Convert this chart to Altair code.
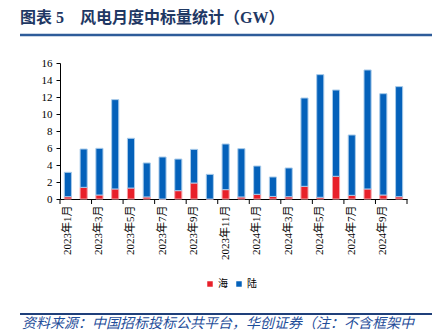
import altair as alt
import pandas as pd

months = ["2023年1月", "2023年2月", "2023年3月", "2023年4月", "2023年5月", "2023年6月",
          "2023年7月", "2023年8月", "2023年9月", "2023年10月", "2023年11月", "2023年12月",
          "2024年1月", "2024年2月", "2024年3月", "2024年4月", "2024年5月", "2024年6月",
          "2024年7月", "2024年8月", "2024年9月", "2024年10月"]
offshore = [0.27, 1.37, 0.47, 1.18, 1.29, 0.24, 0.0, 0.98, 1.88, 0.0, 1.10,
            0.24, 0.55, 0.30, 0.27, 1.49, 0.20, 2.67, 0.43, 1.18, 0.47, 0.27]
onshore = [2.87, 4.51, 5.49, 10.51, 5.85, 4.00, 4.94, 3.72, 3.96, 2.90, 5.37,
           5.68, 3.33, 2.29, 3.38, 10.39, 14.43, 10.15, 7.10, 14.00, 11.92, 12.95]
series = ["海", "陆"]
yticks = [0, 2, 4, 6, 8, 10, 12, 14, 16]
label_months = months[::2]

rows = []
for m, a, b in zip(months, offshore, onshore):
    rows.append({"month": m, "type": series[0], "value": a, "ord": 0})
    rows.append({"month": m, "type": series[1], "value": b, "ord": 1})
df = pd.DataFrame(rows)

W, H = 347, 136
SERIF = "Liberation Serif, Noto Sans CJK SC"
CJK = "Noto Sans CJK SC"

xscale = alt.Scale(domain=months, paddingInner=0, paddingOuter=0)
xaxis = alt.Axis(title=None, values=label_months, labelAngle=270, ticks=False,
                 domainColor="black", labelColor="black", labelFont=SERIF,
                 labelFontSize=11, labelPadding=6)

bars = alt.Chart(df).mark_bar(width={"band": 0.45}, strokeWidth=1).encode(
    x=alt.X("month:N", scale=xscale, sort=months, axis=xaxis),
    y=alt.Y("value:Q", stack="zero", scale=alt.Scale(domain=[0, 16], nice=False),
            axis=alt.Axis(title=None, values=yticks, grid=False, tickSize=4,
                          domainColor="black", tickColor="black", labelColor="black",
                          labelFont=SERIF, labelFontSize=11, labelPadding=4)),
    color=alt.Color("type:N", scale=alt.Scale(domain=series, range=["#E8202A", "#0461BA"]),
                    legend=alt.Legend(orient="none", legendX=145, legendY=216,
                                      direction="horizontal", title=None, symbolType="square",
                                      symbolSize=30, symbolStrokeWidth=0, labelFont=CJK,
                                      labelFontSize=10, labelColor="black",
                                      columnPadding=6, labelOffset=3)),
    stroke=alt.Stroke("type:N", scale=alt.Scale(domain=series, range=["#F4A0A6", "#A8CBEA"]),
                      legend=None),
    order=alt.Order("ord:Q"),
)

tick_df = pd.DataFrame({"month": label_months})
end_df = pd.DataFrame({"month": [months[-1]]})

ticks = alt.Chart(tick_df).mark_rule(color="black", strokeWidth=1).encode(
    x=alt.X("month:N", scale=xscale, sort=months, bandPosition=0, axis=xaxis),
    y=alt.value(H), y2=alt.value(H + 5),
)
end_tick = alt.Chart(end_df).mark_rule(color="black", strokeWidth=1).encode(
    x=alt.X("month:N", scale=xscale, sort=months, bandPosition=1, axis=xaxis),
    y=alt.value(H), y2=alt.value(H + 5),
)

one = alt.Data(values=[{}])
title = alt.Chart(one).mark_text(
    text="图表 5\u3000风电月度中标量统计（GW）", align="left", baseline="middle",
    fontSize=16, fontWeight="bold", font=SERIF, color="#1F3864"
).encode(x=alt.value(-40), y=alt.value(-45))
top_line = alt.Chart(one).mark_rule(color="#2E5C9A", strokeWidth=2.5).encode(
    x=alt.value(-40), x2=alt.value(372), y=alt.value(-28))
bottom_line = alt.Chart(one).mark_rule(color="#1F3F7A", strokeWidth=1.8).encode(
    x=alt.value(-40), x2=alt.value(372), y=alt.value(251))
source = alt.Chart(one).mark_text(
    text="资料来源：中国招标投标公共平台，华创证券（注：不含框架中", align="left",
    baseline="middle", fontSize=14, fontStyle="italic", font=CJK, color="#1F4E9A"
).encode(x=alt.value(-38), y=alt.value(261))

chart = alt.layer(bars, ticks, end_tick, title, top_line, bottom_line, source).properties(
    width=W, height=H,
    autosize=alt.AutoSizeParams(type="none"),
    padding={"left": 60, "top": 63, "right": 29, "bottom": 133},
).configure_view(stroke=None)

chart.save("out.html", embed_options={"renderer": "svg", "actions": False})
